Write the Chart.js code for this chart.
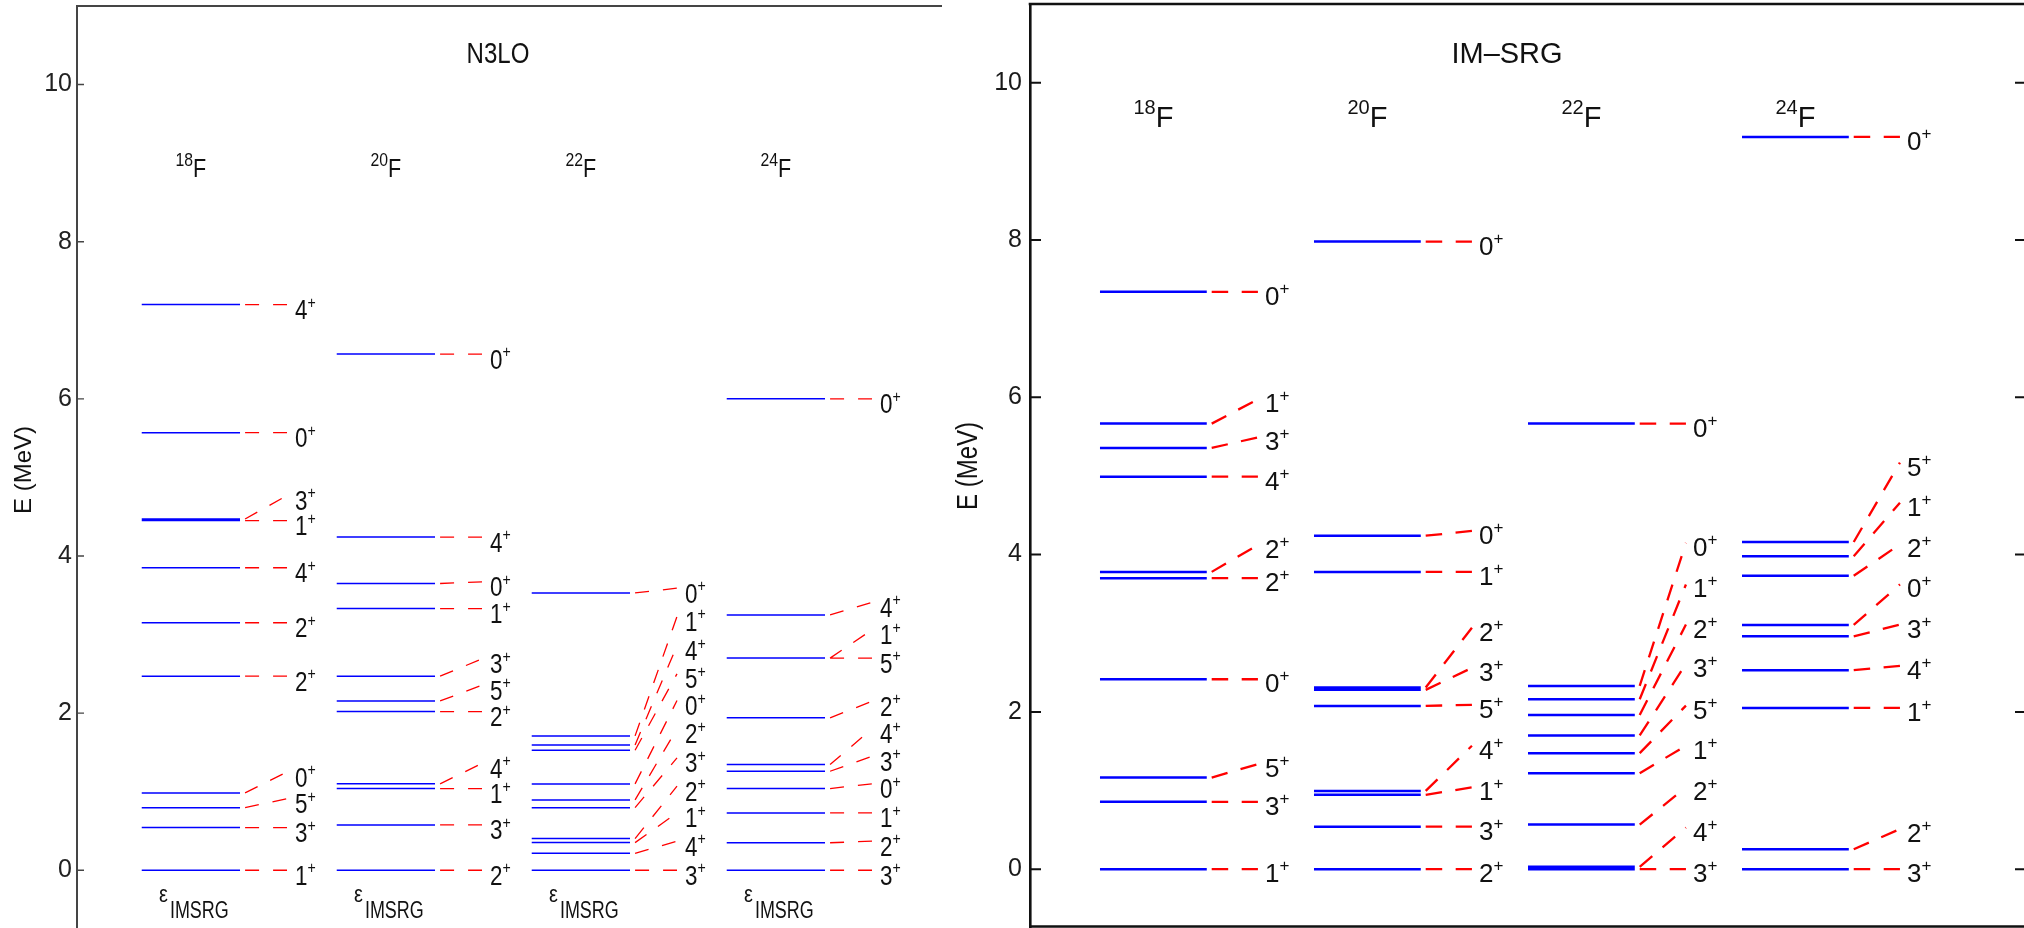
<!DOCTYPE html>
<html><head><meta charset="utf-8">
<script src="https://cdn.jsdelivr.net/npm/chart.js@4.4.1/dist/chart.umd.min.js"></script>
<style>
html,body{margin:0;padding:0;background:#fff;overflow:hidden;width:2024px;height:928px;}
#c1{position:absolute;left:0;top:0;}
#c2{position:absolute;left:950px;top:0;}
</style></head>
<body>
<canvas id="c1" width="990" height="928"></canvas>
<canvas id="c2" width="1076" height="928"></canvas>
<script>
// ---------------- data ----------------
const tickValues = [0, 2, 4, 6, 8, 10];
const nucleusMass = ['18', '20', '22', '24'];
const panelTitles = ['N3LO', 'IM\u2013SRG'];

// N3LO panel: E = level energy (MeV), L = label position, J = spin
const n3lo18E = [0, 0.543, 0.797, 0.984, 2.47, 3.15, 3.85, 4.45, 4.47, 5.57, 7.20];
const n3lo18L = [0, 0.543, 0.91, 1.25, 2.47, 3.15, 3.85, 4.45, 4.77, 5.57, 7.20];
const n3lo18J = ['1','3','5','0','2','2','4','1','3','0','4'];

const n3lo20E = [0, 0.577, 1.04, 1.10, 2.02, 2.155, 2.47, 3.33, 3.65, 4.24, 6.57];
const n3lo20L = [0, 0.577, 1.04, 1.36, 2.02, 2.355, 2.69, 3.33, 3.67, 4.24, 6.57];
const n3lo20J = ['2','3','1','4','2','5','3','1','0','4','0'];

const n3lo22E = [0, 0.216, 0.352, 0.403, 0.797, 0.895, 1.099, 1.527, 1.595, 1.71, 3.53];
const n3lo22L = [0, 0.37, 0.73, 1.07, 1.43, 1.80, 2.16, 2.50, 2.86, 3.23, 3.59];
const n3lo22J = ['3','4','1','2','3','2','0','5','4','1','0'];

const n3lo24E = [0, 0.35, 0.73, 1.04, 1.26, 1.345, 1.94, 2.70, 2.70, 3.25, 6.00];
const n3lo24L = [0, 0.37, 0.73, 1.10, 1.45, 1.80, 2.15, 2.70, 3.06, 3.41, 6.00];
const n3lo24J = ['3','2','1','0','3','4','2','5','1','4','0'];

// IM-SRG panel
const imsrg18E = [0, 0.856, 1.165, 2.415, 3.70, 3.78, 4.99, 5.356, 5.665, 7.34];
const imsrg18L = [0, 0.856, 1.335, 2.415, 3.70, 4.12, 4.99, 5.49, 5.975, 7.34];
const imsrg18J = ['1','3','5','0','2','2','4','3','1','0'];

const imsrg20E = [0, 0.54, 0.945, 0.995, 2.076, 2.28, 2.31, 3.78, 4.24, 7.98];
const imsrg20L = [0, 0.54, 1.04, 1.57, 2.09, 2.56, 3.07, 3.78, 4.30, 7.98];
const imsrg20J = ['2','3','1','4','5','3','2','1','0','0'];

const imsrg22E = [0, 0.03, 0.567, 1.22, 1.475, 1.70, 1.96, 2.16, 2.33, 5.665];
const imsrg22L = [0, 0.53, 1.04, 1.57, 2.08, 2.61, 3.11, 3.62, 4.15, 5.665];
const imsrg22J = ['3','4','2','1','5','3','2','1','0','0'];

const imsrg24E = [0, 0.254, 2.05, 2.53, 2.96, 3.105, 3.73, 3.98, 4.16, 9.31];
const imsrg24L = [0, 0.51, 2.05, 2.585, 3.11, 3.62, 4.13, 4.66, 5.17, 9.31];
const imsrg24J = ['3','2','1','4','3','0','2','1','5','0'];

// ---------------- layout / style ----------------
const FAM = '"Liberation Sans", Arial, sans-serif';
const NARROW_FAM = '"Liberation Sans Narrow", "Liberation Sans", Arial, sans-serif';

const leftCfg = {
  canvas: 'c1', yWidth: 77, padTop: 6, padBottom: 0, padRight: 48,
  xmax: 4.436, ymin: -0.735, ymax: 11,
  blueStart: 0.332, blueEnd: 0.836, conStart: 0.862, conEnd: 1.077, labelX: 1.118,
  blueW: 1.5, redW: 1.3, dash: [14, 14],
  axisColor: '#454545', axisW: 2, tickLen: 7, rightTicks: false, bottomLine: false,
  tickFont: { family: NARROW_FAM, size: 25 }, tickColor: '#222', tickPad: 5,
  sx: 0.83, labSize: 27, labBase: 14.5, supSize: 17, supBase: 3,
  nucSize: 26, nucSupSize: 19, nucRaise: 11, nucY: 8.82,
  title: panelTitles[0], titleX: 2.159, titleY: 10.28, titleSize: 29,
  eps: true, eTitle: { x: 24, y: 470, size: 24, stretch: 1.0 },
  groups: [
    { E: n3lo18E, L: n3lo18L, J: n3lo18J },
    { E: n3lo20E, L: n3lo20L, J: n3lo20J },
    { E: n3lo22E, L: n3lo22L, J: n3lo22J },
    { E: n3lo24E, L: n3lo24L, J: n3lo24J }
  ]
};
const rightCfg = {
  canvas: 'c2', yWidth: 80, padTop: 4, padBottom: 1, padRight: 0,
  xmax: 4.654, ymin: -0.735, ymax: 11,
  blueStart: 0.327, blueEnd: 0.826, conStart: 0.849, conEnd: 1.065, labelX: 1.098,
  blueW: 2.5, redW: 2.3, dash: [16.5, 13.5],
  axisColor: '#111', axisW: 2.6, tickLen: 11, rightTicks: true, bottomLine: true,
  tickFont: { family: FAM, size: 25 }, tickColor: '#1a1a1a', tickPad: 8,
  sx: 1.0, labSize: 26, labBase: 13, supSize: 17, supBase: 2,
  nucSize: 29, nucSupSize: 20, nucRaise: 13, nucY: 9.43,
  title: panelTitles[1], titleX: 2.229, titleY: 10.25, titleSize: 29,
  eps: false, eTitle: { x: 19, y: 466, size: 24, stretch: 1.2 },
  groups: [
    { E: imsrg18E, L: imsrg18L, J: imsrg18J },
    { E: imsrg20E, L: imsrg20L, J: imsrg20J },
    { E: imsrg22E, L: imsrg22L, J: imsrg22J },
    { E: imsrg24E, L: imsrg24L, J: imsrg24J }
  ]
};

function buildLevels(cfg) {
  const pts = [];
  cfg.groups.forEach((g, i) => {
    g.E.forEach(e => {
      pts.push({ x: cfg.blueStart + i, y: e }, { x: cfg.blueEnd + i, y: e }, { x: cfg.blueEnd + i, y: null });
    });
  });
  return pts;
}
function buildConnectors(cfg) {
  const pts = [];
  cfg.groups.forEach((g, i) => {
    g.E.forEach((e, k) => {
      pts.push({ x: cfg.conStart + i, y: e }, { x: cfg.conEnd + i, y: g.L[k] }, { x: cfg.conEnd + i, y: null });
    });
  });
  return pts;
}

function drawText(ctx, s, x, y, size, sx, align, color) {
  ctx.save();
  ctx.translate(x, y);
  ctx.scale(sx, 1);
  ctx.font = size + 'px ' + FAM;
  ctx.fillStyle = color;
  ctx.textAlign = align;
  ctx.textBaseline = 'alphabetic';
  ctx.fillText(s, 0, 0);
  const w = ctx.measureText(s).width * sx;
  ctx.restore();
  return w;
}
function textWidth(ctx, s, size, sx) {
  ctx.save(); ctx.font = size + 'px ' + FAM;
  const w = ctx.measureText(s).width * sx; ctx.restore(); return w;
}

const framePlugin = {
  id: 'frame',
  afterDraw(chart) {
    const cfg = chart.config.options.plugins.frame;
    const ctx = chart.ctx, a = chart.chartArea, ys = chart.scales.y;
    ctx.save();
    ctx.strokeStyle = cfg.axisColor;
    ctx.lineWidth = cfg.axisW;
    ctx.beginPath();
    ctx.moveTo(a.left - cfg.axisW / 2, a.top); ctx.lineTo(a.right, a.top);
    if (cfg.bottomLine) { ctx.moveTo(a.left, a.bottom - 0.5); ctx.lineTo(a.right, a.bottom - 0.5); }
    ctx.stroke();
    ctx.lineWidth = Math.max(1.2, cfg.axisW - 0.6);
    ctx.beginPath();
    ys.ticks.forEach(t => {
      const y = ys.getPixelForValue(t.value);
      ctx.moveTo(a.left, y); ctx.lineTo(a.left + cfg.tickLen, y);
      if (cfg.rightTicks) { ctx.moveTo(a.right, y); ctx.lineTo(a.right - cfg.tickLen, y); }
    });
    ctx.stroke();
    ctx.restore();
  }
};

const textPlugin = {
  id: 'levelText',
  afterDatasetsDraw(chart) {
    const cfg = chart.config.options.plugins.levelText;
    const ctx = chart.ctx, xs = chart.scales.x, ys = chart.scales.y;
    const col = '#111';
    cfg.groups.forEach((g, i) => {
      // spin labels
      g.J.forEach((j, k) => {
        const x = xs.getPixelForValue(cfg.labelX + i);
        const y = ys.getPixelForValue(g.L[k]);
        const w = drawText(ctx, j, x, y + cfg.labBase, cfg.labSize, cfg.sx, 'left', col);
        drawText(ctx, '+', x + w, y + cfg.supBase, cfg.supSize, cfg.sx, 'left', col);
      });
      // nucleus label
      const cx = xs.getPixelForValue((cfg.blueStart + cfg.blueEnd) / 2 + i);
      const by = ys.getPixelForValue(cfg.nucY);
      const w1 = textWidth(ctx, nucleusMass[i], cfg.nucSupSize, cfg.sx);
      const w2 = textWidth(ctx, 'F', cfg.nucSize, cfg.sx);
      const x0 = cx - (w1 + w2) / 2;
      drawText(ctx, nucleusMass[i], x0, by - cfg.nucRaise, cfg.nucSupSize, cfg.sx, 'left', col);
      drawText(ctx, 'F', x0 + w1, by, cfg.nucSize, cfg.sx, 'left', col);
      // epsilon label
      if (cfg.eps) {
        const ew = textWidth(ctx, '\u03b5', 24, cfg.sx);
        const iw = textWidth(ctx, 'IMSRG', 23, 0.78);
        const ex = cx + 3 - (ew + iw + 2) / 2;
        const ey = ys.getPixelForValue(-0.41);
        drawText(ctx, '\u03b5', ex, ey, 24, cfg.sx, 'left', col);
        drawText(ctx, 'IMSRG', ex + ew + 2, ey + 16, 23, 0.78, 'left', col);
      }
    });
    // title
    drawText(ctx, cfg.title, xs.getPixelForValue(cfg.titleX), ys.getPixelForValue(cfg.titleY), cfg.titleSize, cfg.sx, 'center', col);
    // axis title
    ctx.save();
    ctx.translate(cfg.eTitle.x, cfg.eTitle.y);
    ctx.rotate(-Math.PI / 2);
    ctx.scale(1, cfg.eTitle.stretch);
    ctx.font = cfg.eTitle.size + 'px ' + FAM;
    ctx.fillStyle = col;
    ctx.textAlign = 'center';
    ctx.textBaseline = 'middle';
    ctx.fillText('E (MeV)', 0, 0);
    ctx.restore();
  }
};

function makeChart(cfg) {
  return new Chart(document.getElementById(cfg.canvas), {
    type: 'line',
    data: {
      datasets: [
        { label: 'levels', data: buildLevels(cfg), borderColor: '#0000ff', borderWidth: cfg.blueW,
          pointRadius: 0, spanGaps: false, tension: 0, fill: false },
        { label: 'connectors', data: buildConnectors(cfg), borderColor: '#ff0000', borderWidth: cfg.redW,
          borderDash: cfg.dash, pointRadius: 0, spanGaps: false, tension: 0, fill: false }
      ]
    },
    options: {
      responsive: false, animation: false, events: [],
      layout: { padding: { left: 0, top: cfg.padTop, right: cfg.padRight, bottom: cfg.padBottom } },
      plugins: {
        legend: { display: false }, tooltip: { enabled: false },
        frame: cfg, levelText: cfg
      },
      scales: {
        x: { type: 'linear', min: 0, max: cfg.xmax, display: false },
        y: {
          type: 'linear', min: cfg.ymin, max: cfg.ymax,
          afterBuildTicks: s => { s.ticks = tickValues.map(v => ({ value: v })); },
          afterFit: s => { s.width = cfg.yWidth; s.paddingTop = 0; s.paddingBottom = 0; },
          grid: { display: false, drawTicks: false },
          border: { display: true, color: cfg.axisColor, width: cfg.axisW },
          ticks: { padding: cfg.tickPad, color: cfg.tickColor, font: cfg.tickFont }
        }
      }
    },
    plugins: [framePlugin, textPlugin]
  });
}

makeChart(leftCfg);
makeChart(rightCfg);
</script>
</body></html>
